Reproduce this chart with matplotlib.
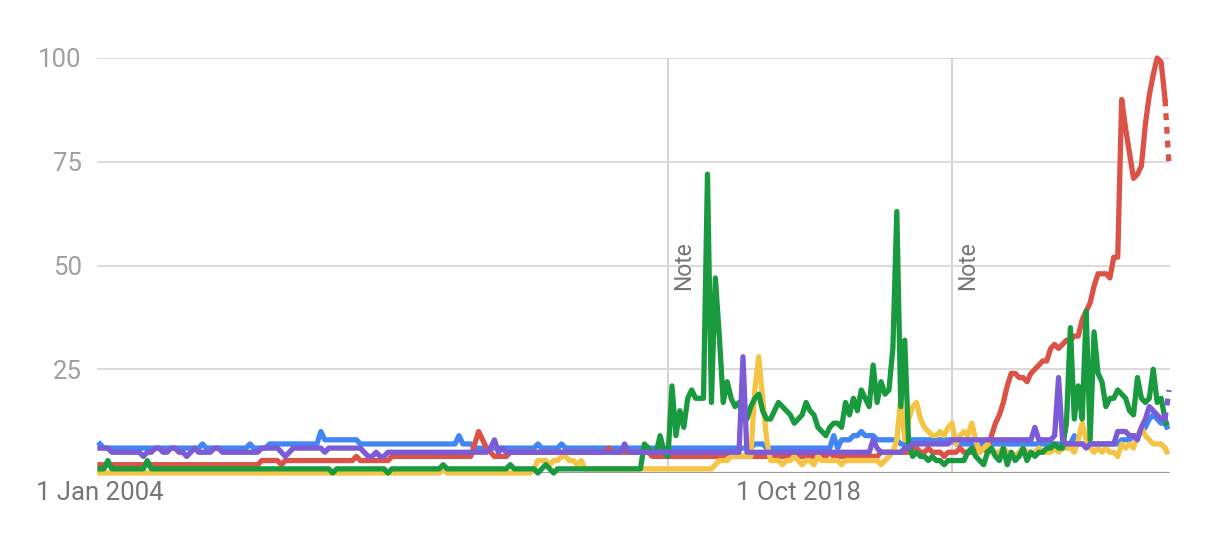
import numpy as np
import matplotlib
matplotlib.use("Agg")
import matplotlib.pyplot as plt

plt.rcParams['font.family'] = ['Roboto', 'DejaVu Sans']

# monthly interest, Jan 2004 .. Aug 2026 (last month partial -> dotted)
blue = [
    7, 6, 6, 6, 6, 6, 6, 6, 6, 6, 6, 6,
    6, 6, 6, 6, 6, 6, 6, 6, 6, 6, 6, 6,
    6, 6, 7, 6, 6, 6, 6, 6, 6, 6, 6, 6,
    6, 6, 7, 6, 6, 6, 6, 7, 7, 7, 7, 7,
    7, 7, 7, 7, 7, 7, 7, 7, 10, 8, 8, 8,
    8, 8, 8, 8, 8, 8, 7, 7, 7, 7, 7, 7,
    7, 7, 7, 7, 7, 7, 7, 7, 7, 7, 7, 7,
    7, 7, 7, 7, 7, 7, 7, 9, 7, 7, 7, 6,
    6, 6, 6, 6, 6, 6, 6, 6, 6, 6, 6, 6,
    6, 6, 6, 7, 6, 6, 6, 6, 6, 7, 6, 6,
    6, 6, 6, 6, 6, 6, 6, 6, 6, 6, 6, 6,
    6, 6, 6, 6, 6, 6, 6, 6, 6, 6, 6, 6,
    6, 6, 6, 6, 6, 6, 6, 6, 6, 6, 6, 6,
    6, 6, 6, 6, 6, 6, 6, 6, 6, 6, 7, 7,
    7, 6, 6, 6, 6, 6, 6, 6, 6, 6, 6, 6,
    6, 6, 6, 6, 6, 6, 9, 6, 8, 8, 8, 9,
    9, 10, 9, 9, 9, 8, 8, 8, 8, 8, 8, 7,
    7, 8, 8, 8, 8, 8, 8, 8, 8, 8, 8, 8,
    8, 7, 7, 7, 7, 7, 7, 7, 7, 7, 7, 7,
    7, 7, 7, 7, 7, 7, 7, 7, 7, 7, 7, 7,
    7, 7, 7, 7, 7, 7, 7, 9, 7, 7, 7, 7,
    7, 7, 7, 7, 7, 7, 7, 8, 8, 8, 9, 9,
    10, 11, 13, 14, 13, 12, 12, 10,
]

red = [
    2, 2, 2, 2, 2, 2, 2, 2, 2, 2, 2, 2,
    2, 2, 2, 2, 2, 2, 2, 2, 2, 2, 2, 2,
    2, 2, 2, 2, 2, 2, 2, 2, 2, 2, 2, 2,
    2, 2, 2, 2, 2, 3, 3, 3, 3, 3, 2, 3,
    3, 3, 3, 3, 3, 3, 3, 3, 3, 3, 3, 3,
    3, 3, 3, 3, 3, 4, 3, 3, 3, 3, 3, 3,
    3, 3, 4, 4, 4, 4, 4, 4, 4, 4, 4, 4,
    4, 4, 4, 4, 4, 4, 4, 4, 4, 4, 4, 7,
    10, 8, 6, 5, 4, 4, 4, 4, 5, 5, 5, 5,
    5, 5, 5, 5, 5, 5, 5, 5, 5, 5, 5, 5,
    5, 5, 5, 5, 5, 5, 5, 5, 5, 6, 5, 5,
    5, 5, 5, 5, 5, 5, 5, 5, 4, 4, 4, 4,
    4, 4, 4, 4, 4, 4, 4, 4, 4, 4, 4, 4,
    4, 4, 4, 5, 4, 4, 4, 4, 4, 4, 4, 4,
    4, 4, 4, 4, 4, 4, 4, 4, 4, 4, 4, 4,
    4, 4, 4, 4, 4, 5, 4, 4, 4, 4, 4, 4,
    4, 4, 4, 4, 4, 4, 5, 5, 5, 5, 5, 5,
    5, 5, 6, 6, 5, 5, 6, 5, 5, 5, 4, 5,
    5, 5, 6, 5, 5, 5, 6, 5, 6, 5, 9, 12,
    14, 17, 21, 24, 24, 23, 23, 22, 24, 25, 26, 27,
    27, 30, 31, 30, 31, 32, 32, 33, 33, 37, 39, 41,
    45, 48, 48, 48, 47, 52, 52, 90, 83, 77, 71, 72,
    74, 84, 91, 96, 100, 99, 90, 74,
]

yellow = [
    0, 0, 0, 0, 0, 0, 0, 0, 0, 0, 0, 0,
    0, 0, 0, 0, 0, 0, 0, 0, 0, 0, 0, 0,
    0, 0, 0, 0, 0, 0, 0, 0, 0, 0, 0, 0,
    0, 0, 0, 0, 0, 0, 0, 0, 0, 0, 0, 0,
    0, 0, 0, 0, 0, 0, 0, 0, 0, 0, 0, 0,
    0, 0, 0, 0, 0, 0, 0, 0, 0, 0, 0, 0,
    0, 0, 0, 0, 0, 0, 0, 0, 0, 0, 0, 0,
    0, 0, 0, 1, 0, 0, 0, 0, 0, 0, 0, 0,
    0, 0, 0, 0, 0, 0, 0, 0, 0, 0, 0, 0,
    0, 0, 1, 3, 3, 3, 2, 3, 3, 4, 4, 3,
    3, 2, 3, 1, 1, 1, 1, 1, 1, 1, 1, 1,
    1, 1, 1, 1, 1, 1, 1, 1, 1, 1, 1, 1,
    1, 1, 1, 1, 1, 1, 1, 1, 1, 1, 1, 1,
    2, 3, 3, 3, 4, 4, 4, 4, 4, 4, 20, 28,
    18, 8, 3, 3, 3, 2, 3, 3, 4, 3, 2, 3,
    3, 2, 4, 3, 3, 3, 3, 3, 2, 3, 3, 3,
    3, 3, 3, 3, 3, 3, 2, 3, 4, 5, 8, 18,
    8, 13, 16, 17, 13, 11, 10, 9, 9, 10, 9, 11,
    12, 7, 9, 10, 9, 12, 8, 5, 6, 7, 5, 5,
    5, 6, 5, 5, 4, 5, 6, 5, 5, 5, 6, 5,
    5, 5, 6, 5, 6, 6, 6, 5, 8, 12, 8, 6,
    5, 6, 5, 6, 5, 5, 4, 7, 6, 7, 6, 9,
    11, 9, 8, 7, 7, 7, 6, 4,
]

green = [
    1, 1, 3, 1, 1, 1, 1, 1, 1, 1, 1, 1,
    3, 1, 1, 1, 1, 1, 1, 1, 1, 1, 1, 1,
    1, 1, 1, 1, 1, 1, 1, 1, 1, 1, 1, 1,
    1, 1, 1, 1, 1, 1, 1, 1, 1, 1, 1, 1,
    1, 1, 1, 1, 1, 1, 1, 1, 1, 1, 1, 0,
    1, 1, 1, 1, 1, 1, 1, 1, 1, 1, 1, 1,
    1, 0, 1, 1, 1, 1, 1, 1, 1, 1, 1, 1,
    1, 1, 1, 2, 1, 1, 1, 1, 1, 1, 1, 1,
    1, 1, 1, 1, 1, 1, 1, 1, 2, 1, 1, 1,
    1, 1, 1, 0, 1, 2, 1, 0, 1, 1, 1, 1,
    1, 1, 1, 1, 1, 1, 1, 1, 1, 1, 1, 1,
    1, 1, 1, 1, 1, 1, 7, 6, 5, 5, 9, 5,
    4, 21, 9, 15, 11, 18, 20, 18, 18, 18, 72, 17,
    47, 33, 17, 22, 18, 16, 17, 14, 13, 16, 18, 19,
    15, 13, 13, 15, 17, 16, 15, 14, 12, 13, 14, 17,
    15, 14, 11, 10, 9, 11, 12, 12, 11, 17, 14, 18,
    15, 20, 18, 16, 26, 17, 22, 19, 20, 30, 63, 16,
    32, 7, 4, 5, 4, 4, 3, 4, 3, 3, 2, 3,
    3, 3, 3, 3, 5, 6, 4, 3, 2, 5, 6, 4,
    3, 6, 2, 5, 3, 4, 6, 3, 5, 4, 5, 5,
    6, 6, 7, 6, 6, 12, 35, 13, 21, 13, 39, 8,
    34, 24, 22, 16, 18, 18, 20, 19, 18, 15, 14, 23,
    18, 17, 18, 25, 17, 18, 13, 10,
]

purple = [
    6, 6, 6, 5, 5, 5, 5, 5, 5, 5, 5, 4,
    5, 5, 6, 6, 5, 5, 6, 6, 5, 5, 4, 5,
    6, 5, 5, 5, 5, 6, 6, 5, 5, 5, 5, 5,
    5, 5, 5, 5, 5, 6, 6, 6, 6, 6, 5, 4,
    5, 6, 6, 6, 6, 6, 6, 6, 6, 5, 6, 6,
    6, 6, 6, 6, 6, 6, 6, 5, 4, 4, 5, 4,
    4, 5, 5, 5, 5, 5, 5, 5, 5, 5, 5, 5,
    5, 5, 5, 5, 5, 5, 5, 5, 5, 5, 5, 5,
    5, 5, 5, 6, 8, 5, 6, 5, 5, 5, 5, 5,
    5, 5, 5, 5, 5, 5, 5, 5, 5, 5, 5, 5,
    5, 5, 5, 5, 5, 5, 5, 5, 5, 5, 5, 5,
    5, 7, 5, 5, 5, 5, 5, 5, 5, 5, 5, 5,
    5, 5, 5, 5, 5, 5, 5, 5, 5, 5, 5, 5,
    5, 5, 5, 5, 5, 5, 5, 28, 5, 5, 5, 5,
    5, 5, 5, 5, 5, 5, 5, 5, 5, 5, 5, 5,
    5, 5, 5, 5, 5, 5, 5, 5, 5, 5, 5, 5,
    5, 5, 5, 5, 8, 6, 5, 5, 5, 5, 5, 5,
    6, 6, 7, 7, 7, 7, 7, 7, 7, 7, 7, 7,
    8, 8, 8, 8, 8, 8, 8, 8, 8, 8, 8, 8,
    8, 8, 8, 8, 8, 8, 8, 8, 8, 11, 8, 8,
    8, 8, 9, 23, 8, 7, 7, 7, 7, 7, 6, 7,
    7, 7, 7, 7, 7, 7, 10, 10, 10, 9, 9, 8,
    11, 13, 16, 15, 14, 13, 13, 20,
]

x_ticks = [0, 177]
x_labels = ['1 Jan 2004', '1 Oct 2018']
y_ticks = [25, 50, 75, 100]
note_months = [144, 216]

months = np.arange(len(red))

fig = plt.figure(figsize=(12.21, 5.42), dpi=100)
ax = fig.add_axes([97 / 1221, 1 - 473 / 542, 1073 / 1221, 415 / 542])

# drawing order as in trends: later series on top
series = [(blue, '#4285f4'), (red, '#dc5246'), (yellow, '#f5c444'),
          (green, '#1a9a3e'), (purple, '#7b5cd6')]
for vals, col in series:
    ax.plot(months[:-1], vals[:-1], color=col, lw=3.8, clip_on=False,
            solid_joinstyle='round')
    # last (partial) month dotted
    ax.plot(months[-2:], vals[-2:], color=col, lw=3.8, clip_on=False,
            ls=(0, (1.3, 1.3)), dash_capstyle='butt')

# note markers
for m in note_months:
    ax.axvline(m, color='#cfcfcf', lw=1.3, zorder=0)
    ax.text(m + 4, 50, 'Note', rotation=90, ha='center', va='center',
            color='#757575', fontsize=16.5)

ax.axhline(0, color='#9e9e9e', lw=1.6, zorder=0.5)

ax.set_xlim(-0.75, 271.25)
ax.set_ylim(0, 100)
ax.set_yticks(y_ticks)
ax.set_xticks(x_ticks)
ax.set_xticklabels(x_labels)
ax.yaxis.grid(True, color='#dadada', lw=1.4)
ax.set_axisbelow(True)
ax.tick_params(axis='y', length=0, pad=11, labelcolor='#a0a0a0', labelsize=18.5)
ax.tick_params(axis='x', length=0, pad=6, labelcolor='#757575', labelsize=18.5)
for s in ax.spines.values():
    s.set_visible(False)

fig.savefig('out.png', dpi=100, facecolor='white')
